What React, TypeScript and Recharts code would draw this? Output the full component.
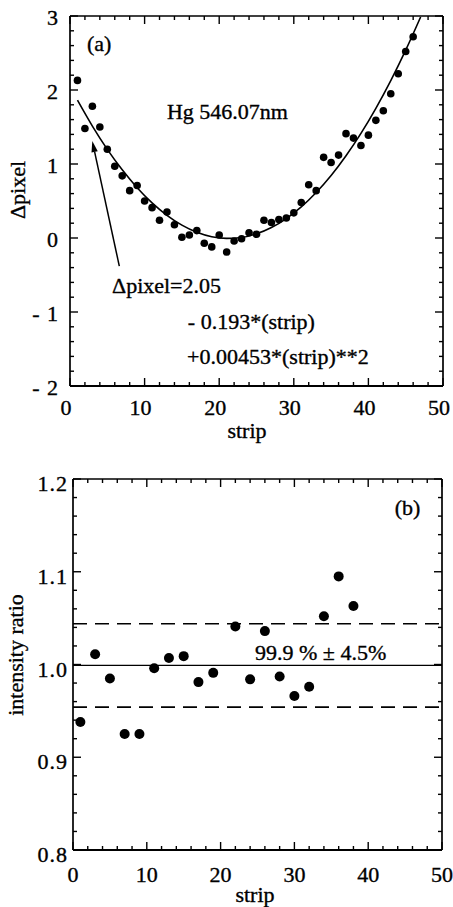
import React from 'react';
import {
  ComposedChart,
  Line,
  Scatter,
  XAxis,
  YAxis,
  ReferenceLine,
  ReferenceDot,
  Label,
} from 'recharts';

// ---------- data (panel a) ----------
const stripA = [
  1, 2, 3, 4, 5, 6, 7, 8, 9, 10, 11, 12, 13, 14, 15, 16, 17, 18, 19, 20, 21, 22, 23,
  24, 25, 26, 27, 28, 29, 30, 31, 32, 33, 34, 35, 36, 37, 38, 39, 40, 41, 42, 43, 44, 45, 46,
];
const dpixel = [
  2.13, 1.48, 1.78, 1.5, 1.2, 0.97, 0.84, 0.64, 0.71, 0.5, 0.41, 0.24, 0.35, 0.18, 0.01, 0.04,
  0.1, -0.07, -0.12, 0.04, -0.19, -0.04, -0.01, 0.07, 0.05, 0.24, 0.21, 0.25, 0.27, 0.34, 0.48,
  0.72, 0.64, 1.09, 1.02, 1.12, 1.41, 1.35, 1.25, 1.39, 1.59, 1.72, 1.95, 2.22, 2.52, 2.72,
];
// fitted curve
const fitStrip = [1, 3, 5, 7, 9, 11, 13, 15, 17, 19, 21, 23, 25, 27, 29, 31, 33, 35, 37, 39, 41, 43, 45, 47];
const fitDpixel = [
  1.862, 1.512, 1.198, 0.921, 0.68, 0.475, 0.307, 0.174, 0.078, 0.018, -0.005, 0.007, 0.056,
  0.141, 0.263, 0.42, 0.614, 0.844, 1.111, 1.413, 1.752, 2.127, 2.538, 2.986,
];
const arrowA = [
  { x: 6.61, y: -0.38 },
  { x: 2.99, y: 1.31 },
];

// ---------- data (panel b) ----------
const stripB = [1, 3, 5, 7, 9, 11, 13, 15, 17, 19, 22, 24, 26, 28, 30, 32, 34, 36, 38];
const ratio = [
  0.938, 1.011, 0.985, 0.925, 0.925, 0.996, 1.007, 1.009, 0.981, 0.991, 1.041, 0.984, 1.036,
  0.987, 0.966, 0.976, 1.052, 1.095, 1.063,
];
const meanRatio = 0.999;
const upperRatio = 1.044;
const lowerRatio = 0.954;

// ---------- axes ----------
const xDomain = [0, 50];
const yDomainA = [-2, 3];
const yDomainB = [0.8, 1.2];
const xTicks = [0, 2, 4, 6, 8, 10, 12, 14, 16, 18, 20, 22, 24, 26, 28, 30, 32, 34, 36, 38, 40, 42, 44, 46, 48, 50];
const xLabels = [0, 10, 20, 30, 40, 50];
const yTicksA = [
  -2, -1.8, -1.6, -1.4, -1.2, -1, -0.8, -0.6, -0.4, -0.2, 0, 0.2, 0.4, 0.6, 0.8, 1, 1.2, 1.4,
  1.6, 1.8, 2, 2.2, 2.4, 2.6, 2.8, 3,
];
const yLabelsA = [-2, -1, 0, 1, 2, 3];
const yTicksB = [
  0.8, 0.82, 0.84, 0.86, 0.88, 0.9, 0.92, 0.94, 0.96, 0.98, 1.0, 1.02, 1.04, 1.06, 1.08, 1.1,
  1.12, 1.14, 1.16, 1.18, 1.2,
];
const yLabelsB = [0.8, 0.9, 1.0, 1.1, 1.2];

// ---------- texts ----------
const textsA = [
  { x: 2.28, y: 2.53, text: '(a)' },
  { x: 13.0, y: 1.61, text: 'Hg  546.07nm' },
  { x: 5.63, y: -0.743, text: '\u0394pixel=2.05' },
  { x: 15.8, y: -1.23, text: '- 0.193*(strip)' },
  { x: 15.7, y: -1.7, text: '+0.00453*(strip)**2' },
];
const textsB = [
  { x: 43.6, y: 1.1617, text: '(b)' },
  { x: 24.66, y: 1.0045, text: '99.9 % \u00b1 4.5%' },
];

const tableA = stripA.map((s, i) => ({ x: s, y: dpixel[i] }));
const fitTable = fitStrip.map((s, i) => ({ x: s, y: fitDpixel[i] }));
const tableB = stripB.map((s, i) => ({ x: s, y: ratio[i] }));

const FONT = "'Liberation Serif', 'Times New Roman', serif";
const FS = 22;
const TXT = { fontFamily: FONT, fontSize: FS, fill: '#000', stroke: '#000', strokeWidth: 0.35 };

const isMajor = (v: number, step: number) => Math.abs(v / step - Math.round(v / step)) < 1e-6;

const bottomLabel = (fmt: (v: number) => string, dx: number, dy: number) => (props: any) => {
  const { x, y, payload } = props;
  return (
    <text x={x + dx} y={y + dy} textAnchor="middle" {...TXT}>
      {fmt(payload.value)}
    </text>
  );
};
const leftLabel = (fmt: (v: number) => string, dx: number, dy: number) => (props: any) => {
  const { x, y, payload } = props;
  return (
    <text x={x + dx} y={y + dy} textAnchor="end" letterSpacing={1} {...TXT}>
      {fmt(payload.value)}
    </text>
  );
};

const fmtX = (v: number) => String(v);
const fmtYA = (v: number) => (v < 0 ? '- ' + String(Math.abs(Math.round(v))) : String(Math.round(v)));
const fmtYB = (v: number) => v.toFixed(1);

// inward tick marks at both ends of a reference line
const vTick = (major: boolean) => (props: any) => {
  const { x1, y1, y2 } = props;
  const top = Math.min(y1, y2);
  const bot = Math.max(y1, y2);
  const len = major ? 8 : 4;
  return (
    <g>
      <line x1={x1} x2={x1} y1={bot} y2={bot - len} stroke="#000" strokeWidth={1.4} />
      <line x1={x1} x2={x1} y1={top} y2={top + len} stroke="#000" strokeWidth={1.4} />
    </g>
  );
};
const hTick = (major: boolean) => (props: any) => {
  const { x1, x2, y1 } = props;
  const l = Math.min(x1, x2);
  const r = Math.max(x1, x2);
  const len = major ? 8 : 4;
  return (
    <g>
      <line x1={l} x2={l + len} y1={y1} y2={y1} stroke="#000" strokeWidth={1.4} />
      <line x1={r} x2={r - len} y1={y1} y2={y1} stroke="#000" strokeWidth={1.4} />
    </g>
  );
};

const textLabel = (text: string) => (props: any) => {
  const vb = props.viewBox || {};
  return (
    <text x={vb.x} y={vb.y} textAnchor="start" {...TXT}>
      {text}
    </text>
  );
};

const xTitle = (dx: number, dy: number) => (props: any) => {
  const vb = props.viewBox || {};
  return (
    <text x={vb.x + vb.width / 2 + dx} y={vb.y + dy} textAnchor="middle" {...TXT}>
      strip
    </text>
  );
};

const yTitle = (text: string, bx: number, dy: number) => (props: any) => {
  const vb = props.viewBox || {};
  const cy = vb.y + vb.height / 2 + dy;
  return (
    <text x={bx} y={cy} textAnchor="middle" {...TXT} transform={`rotate(-90, ${bx}, ${cy})`}>
      {text}
    </text>
  );
};

const ArrowShape = (props: any) => {
  const { x1, y1, x2, y2 } = props;
  const ang = Math.atan2(y2 - y1, x2 - x1);
  const L = 11;
  const W = 3.2;
  const bx = x2 - L * Math.cos(ang);
  const by = y2 - L * Math.sin(ang);
  const px = -Math.sin(ang) * W;
  const py = Math.cos(ang) * W;
  return (
    <g>
      <line x1={x1} y1={y1} x2={bx} y2={by} stroke="#000" strokeWidth={1.5} />
      <polygon points={`${x2},${y2} ${bx + px},${by + py} ${bx - px},${by - py}`} fill="#000" />
    </g>
  );
};

const dotA = (props: any) => <circle cx={props.cx} cy={props.cy} r={3.8} fill="#000" />;
const dotB = (props: any) => <circle cx={props.cx} cy={props.cy} r={5} fill="#000" />;

const frame = (yDom: number[]) => [
  <ReferenceLine key="f-l" x={xDomain[0]} stroke="#000" strokeWidth={1.7} />,
  <ReferenceLine key="f-r" x={xDomain[1]} stroke="#000" strokeWidth={1.7} />,
  <ReferenceLine key="f-b" y={yDom[0]} stroke="#000" strokeWidth={2} />,
  <ReferenceLine key="f-t" y={yDom[1]} stroke="#000" strokeWidth={1.7} />,
];

const tickMarks = (yTicks: number[], yStep: number) => [
  ...xTicks.map((v) => <ReferenceLine key={'tx' + v} x={v} stroke="#000" shape={vTick(isMajor(v, 10))} />),
  ...yTicks.map((v) => <ReferenceLine key={'ty' + v} y={v} stroke="#000" shape={hTick(isMajor(v, yStep))} />),
];

const PanelA = () => (
  <ComposedChart width={453} height={455} margin={{ top: 16, right: 10, bottom: 0, left: 0 }}>
    <XAxis
      dataKey="x"
      type="number"
      domain={xDomain}
      ticks={xLabels}
      interval={0}
      height={69}
      tickSize={0}
      tickMargin={0}
      tickLine={false}
      axisLine={false}
      tick={bottomLabel(fmtX, -4, 29)}
      label={<Label content={xTitle(-9.5, 52)} />}
    />
    <YAxis
      type="number"
      domain={yDomainA}
      ticks={yLabelsA}
      interval={0}
      width={70}
      tickSize={0}
      tickMargin={0}
      tickLine={false}
      axisLine={false}
      tick={leftLabel(fmtYA, -11, 9)}
      label={<Label content={yTitle('\u0394pixel', 25, -11)} />}
    />
    {tickMarks(yTicksA, 1)}
    {frame(yDomainA)}
    <Line
      data={fitTable}
      dataKey="y"
      type="monotone"
      stroke="#000"
      strokeWidth={1.6}
      dot={false}
      activeDot={false}
      isAnimationActive={false}
    />
    <Scatter data={tableA} dataKey="y" shape={dotA} isAnimationActive={false} />
    <ReferenceLine segment={arrowA} shape={ArrowShape} />
    {textsA.map((t) => (
      <ReferenceDot key={t.text} x={t.x} y={t.y} r={0} stroke="none" fill="none" label={textLabel(t.text)} />
    ))}
  </ComposedChart>
);

const PanelB = () => (
  <ComposedChart width={453} height={452} margin={{ top: 24, right: 11, bottom: 0, left: 0 }}>
    <XAxis
      dataKey="x"
      type="number"
      domain={xDomain}
      ticks={xLabels}
      interval={0}
      height={57}
      tickSize={0}
      tickMargin={0}
      tickLine={false}
      axisLine={false}
      tick={bottomLabel(fmtX, 0, 32)}
      label={<Label content={xTitle(-2.5, 52)} />}
    />
    <YAxis
      type="number"
      domain={yDomainB}
      ticks={yLabelsB}
      interval={0}
      width={73}
      tickSize={0}
      tickMargin={0}
      tickLine={false}
      axisLine={false}
      tick={leftLabel(fmtYB, -5, 12)}
      label={<Label content={yTitle('intensity ratio', 23, -9.5)} />}
    />
    {tickMarks(yTicksB, 0.1)}
    {frame(yDomainB)}
    <ReferenceLine y={meanRatio} stroke="#000" strokeWidth={1.2} />
    <ReferenceLine y={upperRatio} stroke="#000" strokeWidth={1.6} strokeDasharray="14 8" />
    <ReferenceLine y={lowerRatio} stroke="#000" strokeWidth={1.6} strokeDasharray="14 8" />
    <Scatter data={tableB} dataKey="y" shape={dotB} isAnimationActive={false} />
    {textsB.map((t) => (
      <ReferenceDot key={t.text} x={t.x} y={t.y} r={0} stroke="none" fill="none" label={textLabel(t.text)} />
    ))}
  </ComposedChart>
);

export default function App() {
  return (
    <div style={{ position: 'absolute', left: 0, top: 0, width: 453, height: 907, background: '#fff' }}>
      <PanelA />
      <PanelB />
    </div>
  );
}
